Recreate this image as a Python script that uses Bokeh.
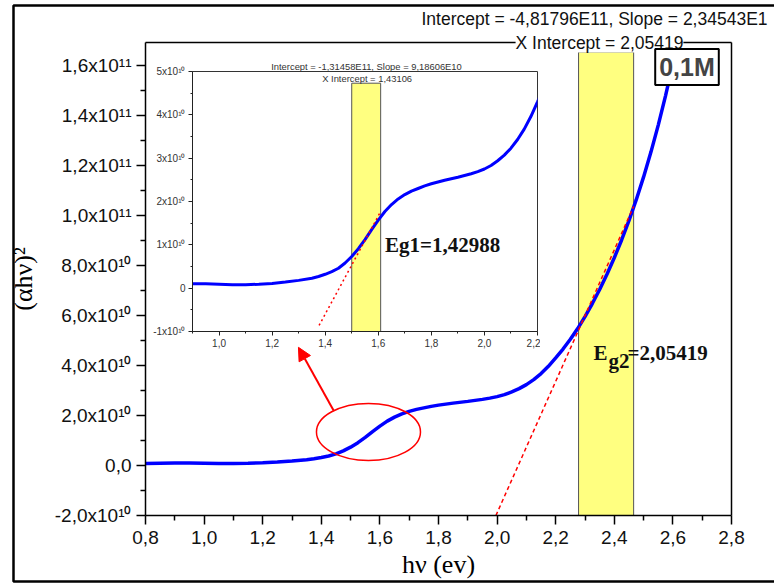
from bokeh.plotting import figure
from bokeh.models import (Range1d, FixedTicker, CustomJSTickFormatter, Label, Arrow,
                          NormalHead, LinearAxis)
from bokeh.embed import file_html
from bokeh.resources import INLINE

# ---------------- data ----------------
hv = [0.80, 0.85, 0.90, 0.95, 1.00, 1.05, 1.10, 1.15, 1.20, 1.25, 1.30, 1.35, 1.375,
      1.40, 1.425, 1.45, 1.475, 1.50, 1.525, 1.55, 1.575, 1.60, 1.625, 1.65, 1.675,
      1.70, 1.725, 1.75, 1.775, 1.80, 1.85, 1.90, 1.95, 1.975, 2.00, 2.025, 2.05,
      2.075, 2.10, 2.125, 2.15, 2.175, 2.20, 2.225, 2.25, 2.275, 2.30, 2.325, 2.35,
      2.375, 2.40, 2.425, 2.45, 2.475, 2.50, 2.525, 2.55, 2.575, 2.60, 2.625]
ahv2 = [0.08e10, 0.09e10, 0.10e10, 0.10e10, 0.09e10, 0.08e10, 0.08e10, 0.09e10, 0.11e10,
        0.14e10, 0.18e10, 0.23e10, 0.27e10,
        0.32e10, 0.38e10, 0.46e10, 0.58e10, 0.73e10, 0.91e10, 1.12e10, 1.35e10, 1.57e10,
        1.77e10, 1.93e10, 2.06e10,
        2.16e10, 2.24e10, 2.30e10, 2.36e10, 2.41e10, 2.49e10, 2.56e10, 2.64e10, 2.69e10,
        2.75e10, 2.83e10, 2.94e10,
        3.07e10, 3.23e10, 3.43e10, 3.67e10, 3.96e10, 4.30e10, 4.65e10, 5.04e10, 5.47e10,
        5.95e10, 6.47e10, 7.03e10,
        7.64e10, 8.30e10, 9.01e10, 9.78e10, 10.62e10, 11.53e10, 12.52e10, 13.60e10,
        14.78e10, 16.07e10, 17.47e10]

# linear fits (as drawn)
fit2_x = [1.996, 2.466]
fit2_y = [-2.0e10, 10.35e10]
fit1_x = [1.377, 1.61]
fit1_y = [-0.86e10, 1.78e10]

# fit ranges (yellow bands)
band2 = dict(left=[2.278], right=[2.466], bottom=[-2.0e10], top=[1.652e11])
band1 = dict(left=[1.500], right=[1.609], bottom=[-1.0e10], top=[4.73e10])

# highlighted region (ellipse)
ell_x, ell_y, ell_w, ell_h = [1.561], [1.34e10], [0.355], [2.28e10]

# ticks
main_x_ticks = [0.8, 1.0, 1.2, 1.4, 1.6, 1.8, 2.0, 2.2, 2.4, 2.6, 2.8]
main_x_labels = ["0,8", "1,0", "1,2", "1,4", "1,6", "1,8", "2,0", "2,2", "2,4", "2,6", "2,8"]
main_x_minor = [0.9, 1.1, 1.3, 1.5, 1.7, 1.9, 2.1, 2.3, 2.5, 2.7]
main_y_ticks = [-2e10, 0, 2e10, 4e10, 6e10, 8e10, 1.0e11, 1.2e11, 1.4e11, 1.6e11]
main_y_labels = ["-2,0x10¹⁰", "0,0", "2,0x10¹⁰", "4,0x10¹⁰", "6,0x10¹⁰", "8,0x10¹⁰",
                 "1,0x10¹¹", "1,2x10¹¹", "1,4x10¹¹", "1,6x10¹¹"]
main_y_minor = [-1e10, 1e10, 3e10, 5e10, 7e10, 9e10, 1.1e11, 1.3e11, 1.5e11]

inset_x_ticks = [1.0, 1.2, 1.4, 1.6, 1.8, 2.0, 2.2]
inset_x_labels = ["1,0", "1,2", "1,4", "1,6", "1,8", "2,0", "2,2"]
inset_x_minor = [0.9, 1.1, 1.3, 1.5, 1.7, 1.9, 2.1]
inset_y_ticks = [-1e10, 0, 1e10, 2e10, 3e10, 4e10, 5e10]
inset_y_labels = ["-1x10¹⁰", "0", "1x10¹⁰", "2x10¹⁰", "3x10¹⁰", "4x10¹⁰", "5x10¹⁰"]
inset_y_minor = [-0.5e10, 0.5e10, 1.5e10, 2.5e10, 3.5e10, 4.5e10]

SANS = "Liberation Sans"
SERIF = "Liberation Serif"


def fmt(tick_values, tick_labels):
    return CustomJSTickFormatter(args=dict(tv=tick_values, tl=tick_labels), code="""
        for (let i = 0; i < tv.length; i++) {
            if (Math.abs(tv[i] - tick) <= 1e-6 * Math.max(1, Math.abs(tv[i]))) return tl[i];
        }
        return "";
    """)


# ---------------- main figure ----------------
p = figure(width=774, height=583, output_backend="svg", toolbar_location=None,
           x_range=Range1d(0.8, 2.8), y_range=Range1d(-2e10, 1.69e11),
           min_border_left=145, min_border_right=43, min_border_top=42, min_border_bottom=68,
           background_fill_color="white", border_fill_color="white",
           styles={"position": "absolute", "left": "0px", "top": "0px"})
p.grid.visible = False
p.outline_line_color = None

p.xaxis.ticker = FixedTicker(ticks=main_x_ticks, minor_ticks=main_x_minor)
p.xaxis.formatter = fmt(main_x_ticks, main_x_labels)
p.yaxis.ticker = FixedTicker(ticks=main_y_ticks, minor_ticks=main_y_minor)
p.yaxis.formatter = fmt(main_y_ticks, main_y_labels)
for ax in (p.xaxis[0], p.yaxis[0]):
    ax.axis_line_width = 1.5
    ax.axis_line_color = "black"
    ax.major_tick_in = 0
    ax.major_tick_out = 9
    ax.minor_tick_in = 0
    ax.minor_tick_out = 5
    ax.major_tick_line_width = 1.5
    ax.minor_tick_line_width = 1.5
    ax.major_tick_line_color = "black"
    ax.minor_tick_line_color = "black"
    ax.major_label_text_font = SANS
    ax.major_label_text_font_size = "19px"
    ax.major_label_text_color = "#111111"
    ax.axis_label_text_font = SERIF
    ax.axis_label_text_font_size = "26px"
    ax.axis_label_text_font_style = "normal"
    ax.axis_label_text_color = "black"
p.xaxis.axis_label = "hν (ev)"
p.yaxis.axis_label = "(αhν)²"
p.xaxis.major_label_standoff = 6
p.xaxis.axis_label_standoff = 3
p.yaxis.major_label_standoff = 5
p.yaxis.axis_label_standoff = 14

for side in ("above", "right"):
    fr = LinearAxis(ticker=FixedTicker(ticks=[]), major_tick_out=0, major_tick_in=0,
                    minor_tick_out=0, minor_tick_in=0, axis_line_width=1.5,
                    axis_line_color="black", major_label_text_font_size="0px")
    p.add_layout(fr, side)

p.quad(left="left", right="right", bottom="bottom", top="top", source=band2,
       fill_color="#FFFF80", line_color="#555555", line_width=1)
p.line(hv, ahv2, line_color="#0000FF", line_width=3.5)
p.line(fit2_x, fit2_y, line_color="red", line_width=1.5, line_dash="4 3")
p.ellipse(x=ell_x, y=ell_y, width=ell_w, height=ell_h, fill_color=None,
          line_color="red", line_width=1.5)
p.add_layout(Arrow(end=NormalHead(size=13, fill_color="red", line_color="red"),
                   x_start=1.442, y_start=2.2e10, x_end=1.322, y_end=4.72e10,
                   line_color="red", line_width=2))
for txt, dx, dy in (("E", 0, 0), ("g2", 15, -8), ("=2,05419", 34, 0)):
    p.add_layout(Label(x=2.329, y=4.48e10, x_offset=dx, y_offset=dy, text=txt,
                       text_font=SERIF, text_font_size="21px", text_font_style="bold",
                       text_align="left", text_baseline="alphabetic", text_color="#111111"))

# ---------------- inset ----------------
ins = figure(width=393, height=300, output_backend="svg", toolbar_location=None,
             x_range=Range1d(0.9, 2.2), y_range=Range1d(-1e10, 5e10),
             min_border_left=45, min_border_right=3, min_border_top=16, min_border_bottom=24,
             background_fill_color="white", border_fill_alpha=0,
             styles={"position": "absolute", "left": "147px", "top": "55px"})
ins.grid.visible = False
ins.outline_line_color = "#333333"
ins.outline_line_width = 1
ins.xaxis.ticker = FixedTicker(ticks=inset_x_ticks, minor_ticks=inset_x_minor)
ins.xaxis.formatter = fmt(inset_x_ticks, inset_x_labels)
ins.yaxis.ticker = FixedTicker(ticks=inset_y_ticks, minor_ticks=inset_y_minor)
ins.yaxis.formatter = fmt(inset_y_ticks, inset_y_labels)
for ax in (ins.xaxis[0], ins.yaxis[0]):
    ax.axis_line_width = 1
    ax.axis_line_color = "#222222"
    ax.major_tick_in = 0
    ax.major_tick_out = 4
    ax.minor_tick_in = 0
    ax.minor_tick_out = 2
    ax.major_tick_line_color = "#222222"
    ax.minor_tick_line_color = "#222222"
    ax.major_label_text_font = SANS
    ax.major_label_text_font_size = "10px"
    ax.major_label_text_color = "#333333"
ins.xaxis.major_label_standoff = 3
ins.yaxis.major_label_standoff = 3

ins.quad(left="left", right="right", bottom="bottom", top="top", source=band1,
         fill_color="#FFFF80", line_color="#555555", line_width=1)
ins.line(hv, ahv2, line_color="#0000FF", line_width=3)
ins.line(fit1_x, fit1_y, line_color="red", line_width=1.5, line_dash="2 3")
ins.add_layout(Label(x=1.558, y=4.84e10, text="X Intercept = 1,43106",
                     text_font=SANS, text_font_size="9.4px", text_align="center",
                     text_baseline="middle", text_color="#333333"))
ins.add_layout(Label(x=1.6256, y=0.986e10, text="Eg1=1,42988", text_font=SERIF,
                     text_font_size="21px", text_font_style="bold", text_align="left",
                     text_baseline="alphabetic", text_color="#111111"))

# ---------------- annotation overlay (pixel coordinates) ----------------
ov = figure(width=774, height=583, output_backend="svg", toolbar_location=None,
            x_range=Range1d(0, 774), y_range=Range1d(583, 0),
            x_axis_type=None, y_axis_type=None, min_border=0,
            background_fill_alpha=0, border_fill_alpha=0, outline_line_color=None,
            styles={"position": "absolute", "left": "0px", "top": "0px"})
ov.grid.visible = False
ov.line(x=[800, 13, 13, 800], y=[5, 5, 581, 581], line_color="black", line_width=2.5)
ov.add_layout(Label(x=421, y=18, text="Intercept = -4,81796E11, Slope = 2,34543E1",
                    text_font=SANS, text_font_size="17.5px", text_align="left",
                    text_baseline="middle", text_color="#111111"))
ov.add_layout(Label(x=599, y=42, text="X Intercept = 2,05419",
                    text_font=SANS, text_font_size="17.5px", text_align="center",
                    text_baseline="middle", text_color="#111111",
                    background_fill_color="white"))
ov.add_layout(Label(x=686.5, y=66.5, text="0,1M", text_font=SANS,
                    text_font_size="25px", text_font_style="bold", text_align="center",
                    text_baseline="middle", background_fill_color="white",
                    border_line_color="black", border_line_width=2, padding=4))
ov.add_layout(Label(x=366, y=66, text="Intercept = -1,31458E11, Slope = 9,18606E10",
                    text_font=SANS, text_font_size="9.4px", text_align="center",
                    text_baseline="middle", text_color="#333333"))

open("out.html", "w").write(file_html([p, ins, ov], INLINE))
